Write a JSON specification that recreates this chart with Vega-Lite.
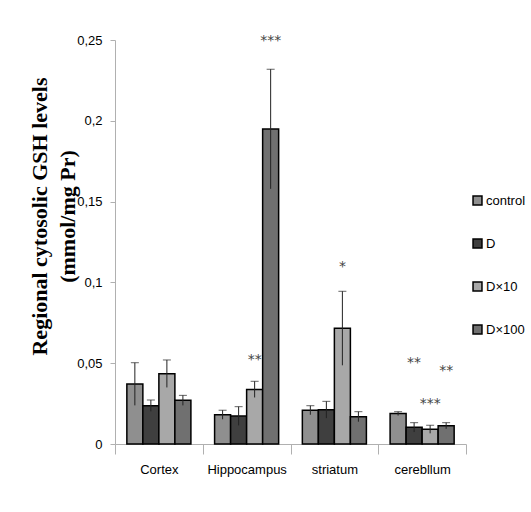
{
  "$schema": "https://vega.github.io/schema/vega-lite/v6.json",
  "autosize": {"type": "none"},
  "padding": {"left": 115, "top": 40, "right": 65, "bottom": 68},
  "width": 351,
  "height": 404,
  "background": "white",
  "data": {
    "values": [
      {"region": "Cortex", "group": "control", "value": 0.0371, "err": 0.0132, "sig": "", "sig_y": null},
      {"region": "Cortex", "group": "D", "value": 0.0237, "err": 0.0035, "sig": "", "sig_y": null},
      {"region": "Cortex", "group": "D×10", "value": 0.0435, "err": 0.0085, "sig": "", "sig_y": null},
      {"region": "Cortex", "group": "D×100", "value": 0.027, "err": 0.0031, "sig": "", "sig_y": null},
      {"region": "Hippocampus", "group": "control", "value": 0.0181, "err": 0.0028, "sig": "", "sig_y": null},
      {"region": "Hippocampus", "group": "D", "value": 0.0173, "err": 0.0058, "sig": "", "sig_y": null},
      {"region": "Hippocampus", "group": "D×10", "value": 0.0338, "err": 0.005, "sig": "**", "sig_y": 0.052},
      {"region": "Hippocampus", "group": "D×100", "value": 0.1949, "err": 0.037, "sig": "***", "sig_y": 0.2494},
      {"region": "striatum", "group": "control", "value": 0.0209, "err": 0.0028, "sig": "", "sig_y": null},
      {"region": "striatum", "group": "D", "value": 0.0212, "err": 0.0052, "sig": "", "sig_y": null},
      {"region": "striatum", "group": "D×10", "value": 0.0716, "err": 0.0229, "sig": "*", "sig_y": 0.1095},
      {"region": "striatum", "group": "D×100", "value": 0.0169, "err": 0.0031, "sig": "", "sig_y": null},
      {"region": "cerebllum", "group": "control", "value": 0.0188, "err": 0.0012, "sig": "", "sig_y": null},
      {"region": "cerebllum", "group": "D", "value": 0.0103, "err": 0.0029, "sig": "**", "sig_y": 0.05},
      {"region": "cerebllum", "group": "D×10", "value": 0.0091, "err": 0.0025, "sig": "***", "sig_y": 0.0248},
      {"region": "cerebllum", "group": "D×100", "value": 0.0113, "err": 0.0019, "sig": "**", "sig_y": 0.045}
    ]
  },
  "transform": [
    {"calculate": "datum.value - datum.err", "as": "lo"},
    {"calculate": "datum.value + datum.err", "as": "hi"}
  ],
  "encoding": {
    "x": {
      "field": "region",
      "type": "nominal",
      "sort": ["Cortex", "Hippocampus", "striatum", "cerebllum"],
      "scale": {"paddingInner": 0, "paddingOuter": 0},
      "axis": {
        "title": null,
        "labelAngle": 0,
        "tickBand": "extent",
        "tickSize": 10,
        "labelPadding": 9,
        "labelFontSize": 13
      }
    },
    "xOffset": {
      "field": "group",
      "type": "nominal",
      "sort": ["control", "D", "D×10", "D×100"],
      "scale": {"paddingInner": 0, "paddingOuter": 0.74}
    }
  },
  "layer": [
    {
      "mark": {"type": "bar", "stroke": "black", "strokeWidth": 1.5},
      "encoding": {
        "y": {
          "field": "value",
          "type": "quantitative",
          "scale": {"domain": [0, 0.25], "nice": false},
          "axis": {
            "values": [0, 0.05, 0.1, 0.15, 0.2, 0.25],
            "format": ".2~f",
            "labelExpr": "replace(datum.label, '.', ',')",
            "labelFontSize": 13,
            "labelPadding": 8,
            "tickSize": 5,
            "grid": false,
            "title": ["Regional cytosolic GSH levels", "\u00a0\u00a0\u00a0\u00a0\u00a0\u00a0\u00a0\u00a0\u00a0\u00a0\u00a0(mmol/mg Pr)"],
            "titleFont": "Liberation Serif",
            "titleFontWeight": "bold",
            "titleFontSize": 22,
            "titleLineHeight": 28,
            "titleColor": "black",
            "titleAngle": -90,
            "titleAlign": "center",
            "titleBaseline": "top",
            "titleX": -86,
            "titleY": 176
          }
        },
        "color": {
          "field": "group",
          "type": "nominal",
          "sort": ["control", "D", "D×10", "D×100"],
          "scale": {
            "domain": ["control", "D", "D×10", "D×100"],
            "range": ["#8f8f8f", "#3f3f3f", "#a8a8a8", "#707070"]
          },
          "legend": {
            "title": null,
            "orient": "none",
            "legendX": 356,
            "legendY": 154,
            "symbolType": "square",
            "symbolSize": 80,
            "symbolStrokeColor": "black",
            "symbolStrokeWidth": 1.5,
            "labelFontSize": 13,
            "labelOffset": 2,
            "rowPadding": 28
          }
        }
      }
    },
    {
      "mark": {"type": "rule", "color": "#222", "strokeWidth": 1},
      "encoding": {
        "y": {"field": "lo", "type": "quantitative"},
        "y2": {"field": "hi"}
      }
    },
    {
      "mark": {"type": "tick", "color": "#222", "size": 8, "thickness": 1},
      "encoding": {
        "y": {"field": "hi", "type": "quantitative"}
      }
    },
    {
      "transform": [{"filter": "datum.sig != ''"}],
      "mark": {"type": "text", "fontSize": 14, "color": "#444", "baseline": "middle", "font": "DejaVu Sans"},
      "encoding": {
        "y": {"field": "sig_y", "type": "quantitative"},
        "text": {"field": "sig"}
      }
    }
  ],
  "config": {
    "view": {"stroke": null},
    "font": "Liberation Sans",
    "axis": {
      "domainColor": "#b0b0b0",
      "tickColor": "#b0b0b0",
      "labelColor": "black",
      "labelFont": "Liberation Sans"
    },
    "legend": {"labelFont": "Liberation Sans", "labelColor": "black"}
  }
}
